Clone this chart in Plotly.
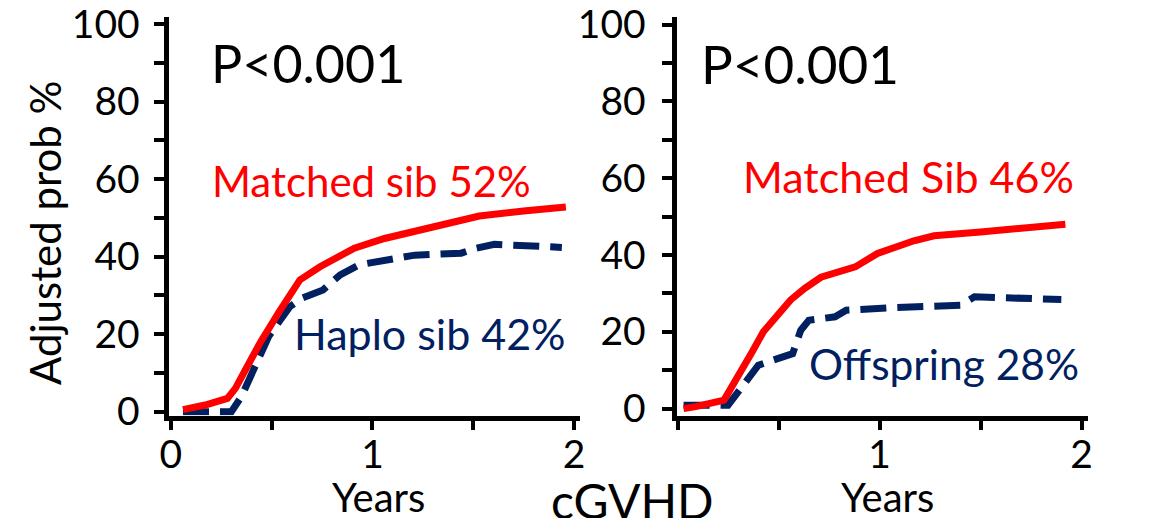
import plotly.graph_objects as go

W, H = 1153, 519

# Cumulative incidence of cGVHD, adjusted probability (%) by years
left_matched_years = [0.06, 0.17, 0.28, 0.32, 0.37, 0.445, 0.54, 0.58, 0.64, 0.74, 0.82, 0.91, 1.06, 1.23, 1.37, 1.53, 1.75, 1.96]
left_matched_prob = [0.5, 1.7, 3.4, 6.0, 10.8, 18.0, 26.0, 29.3, 34.0, 37.4, 39.6, 42.2, 44.7, 46.9, 48.8, 50.5, 51.8, 52.8]

left_haplo_years = [0.06, 0.30, 0.35, 0.41, 0.485, 0.59, 0.65, 0.755, 0.84, 0.935, 1.065, 1.21, 1.44, 1.515, 1.605, 1.77, 1.94]
left_haplo_prob = [0.0, 0.0, 3.9, 10.8, 19.4, 27.1, 29.3, 31.4, 35.3, 37.9, 39.1, 40.4, 40.9, 42.2, 43.2, 42.6, 42.4]

right_matched_years = [0.03, 0.09, 0.23, 0.27, 0.32, 0.37, 0.425, 0.49, 0.56, 0.63, 0.71, 0.88, 0.99, 1.17, 1.27, 1.50, 1.73, 1.92]
right_matched_prob = [0.0, 0.5, 2.2, 5.7, 9.6, 14.8, 20.0, 24.3, 28.3, 31.3, 34.2, 36.9, 40.4, 43.7, 45.0, 46.0, 47.2, 48.0]

right_offspring_years = [0.03, 0.25, 0.32, 0.40, 0.45, 0.57, 0.61, 0.65, 0.78, 0.835, 1.07, 1.40, 1.47, 1.90]
right_offspring_prob = [0.9, 0.9, 5.7, 11.3, 12.2, 14.3, 20.4, 23.0, 23.9, 25.6, 26.3, 26.9, 29.1, 28.4]

# Two-year estimates shown next to the curves
left_matched_2yr, left_haplo_2yr = 52, 42
right_matched_2yr, right_offspring_2yr = 46, 28
p_value_text = "P<0.001"

x_tickvals = [0, 0.5, 1, 1.5, 2]
left_x_ticktext = ["0", "", "1", "", "2"]
right_x_ticktext = ["", "", "1", "", "2"]
y_tickvals = list(range(0, 101, 10))
y_ticktext = [str(v) if v % 20 == 0 else "" for v in y_tickvals]

RED = "#FF0000"
NAVY = "#002060"
FONT = "Lato"


def px(x, y):
    return x / W, 1 - y / H


fig = go.Figure()
fig.add_trace(go.Scatter(x=left_haplo_years, y=left_haplo_prob, mode="lines",
                         line=dict(color=NAVY, width=7, dash="26px,11px"),
                         xaxis="x", yaxis="y"))
fig.add_trace(go.Scatter(x=left_matched_years, y=left_matched_prob, mode="lines",
                         line=dict(color=RED, width=7),
                         xaxis="x", yaxis="y"))
fig.add_trace(go.Scatter(x=right_offspring_years, y=right_offspring_prob, mode="lines",
                         line=dict(color=NAVY, width=7, dash="26px,11px"),
                         xaxis="x2", yaxis="y2"))
fig.add_trace(go.Scatter(x=right_matched_years, y=right_matched_prob, mode="lines",
                         line=dict(color=RED, width=7),
                         xaxis="x2", yaxis="y2"))

ydom = [1 - 415.5 / H, 1 - 16.5 / H]
axis_common = dict(showline=True, linecolor="black", linewidth=5, showgrid=False,
                   zeroline=False, ticks="outside", tickcolor="black", tickwidth=4,
                   ticklabeloverflow="allow",
                   tickfont=dict(family=FONT, size=39, color="black"), fixedrange=True)

fig.update_layout(
    width=W, height=H,
    margin=dict(l=0, r=0, t=0, b=0, autoexpand=False),
    paper_bgcolor="white", plot_bgcolor="white",
    showlegend=False,
    xaxis=dict(domain=[168.5 / W, 580 / W], range=[-0.012, 2.03], anchor="y",
               tickvals=x_tickvals, ticktext=left_x_ticktext, ticklen=9,
               ticklabelstandoff=-8, **axis_common),
    yaxis=dict(domain=ydom, range=[-1.0, 102.0], anchor="x",
               tickvals=y_tickvals, ticktext=y_ticktext, ticklen=10,
               ticklabelstandoff=6, **axis_common),
    xaxis2=dict(domain=[676.5 / W, 1088 / W], range=[-0.005, 2.032], anchor="y2",
                tickvals=x_tickvals, ticktext=right_x_ticktext, ticklen=9,
                ticklabelstandoff=-8, **axis_common),
    yaxis2=dict(domain=ydom, range=[-1.8, 102.1], anchor="x2",
                tickvals=y_tickvals, ticktext=y_ticktext, ticklen=10,
                ticklabelstandoff=8, **axis_common),
)


def label(text, x, y, size, color="black", angle=0, box_height=None):
    ax, ay = px(x, y)
    fig.add_annotation(text=text, x=ax, y=ay, xref="paper", yref="paper",
                       xanchor="center", yanchor="middle", showarrow=False,
                       textangle=angle, height=box_height,
                       font=dict(family=FONT, size=size, color=color))


label("Adjusted prob %", 45, 233, 42, angle=-90)
label(p_value_text, 308, 63, 52)
label(p_value_text, 800, 63, 53)
label(f"Matched sib {left_matched_2yr}%", 371, 181, 42, RED)
label(f"Haplo sib {left_haplo_2yr}%", 430, 333, 43, NAVY)
label(f"Matched Sib {right_matched_2yr}%", 908, 176, 43, RED)
label(f"Offspring {right_offspring_2yr}%", 944, 363, 42.5, NAVY)
label("Years", 378, 497, 40, box_height=40)
label("Years", 887, 497, 40, box_height=40)
label("cGVHD", 632, 500, 48, box_height=36)

fig.write_html("out.html")
